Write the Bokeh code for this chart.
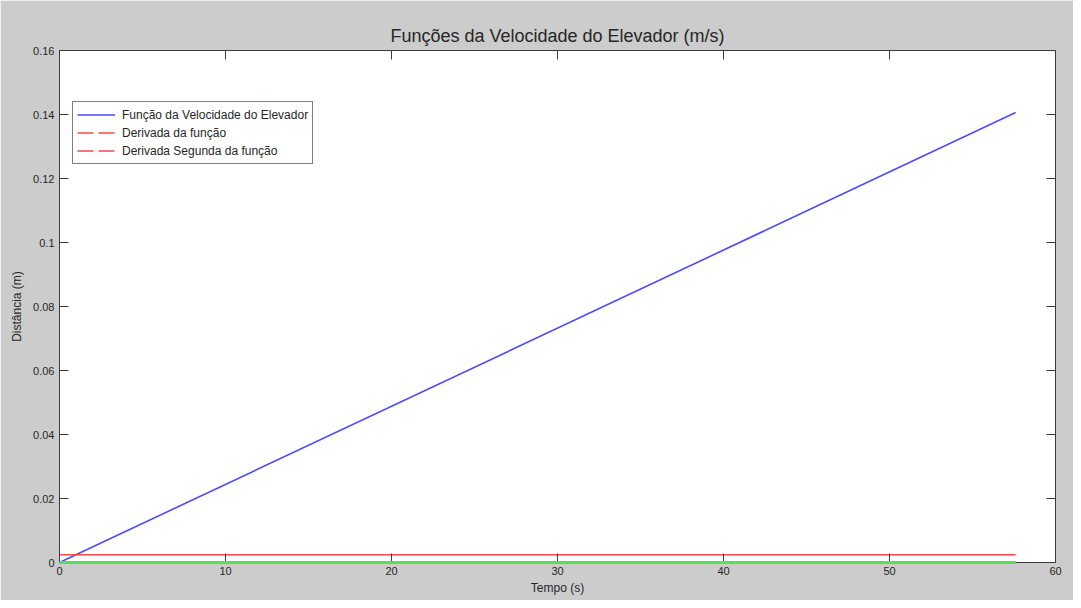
from bokeh.plotting import figure
from bokeh.models import (LinearAxis, FixedTicker, Legend, LegendItem, Range1d, Title,
                          ColumnDataSource, CDSView, IndexFilter)
from bokeh.embed import file_html
from bokeh.resources import INLINE

# Data
t = [0.0, 57.6]
velocidade = [0.0, 0.1406]
derivada = [0.00244, 0.00244]
derivada2 = [0.0, 0.0]

series_names = ["Função da Velocidade do Elevador", "Derivada da função", "Derivada Segunda da função"]
x_ticks = [0, 10, 20, 30, 40, 50, 60]
x_tick_labels = ["0", "10", "20", "30", "40", "50", "60"]
y_ticks = [0, 0.02, 0.04, 0.06, 0.08, 0.1, 0.12, 0.14, 0.16]
y_tick_labels = ["0", "0.02", "0.04", "0.06", "0.08", "0.1", "0.12", "0.14", "0.16"]

FONT = "Liberation Sans"
AX = "#3a3a3a"
TXT = "#262626"
BLUE = "#4a4aff"
RED = "#ff4848"
GREEN = "#55e055"

p = figure(width=1073, height=600, output_backend="svg", toolbar_location=None,
           x_range=Range1d(0, 60), y_range=Range1d(0, 0.16),
           min_border_left=59, min_border_right=18, min_border_top=50, min_border_bottom=38,
           x_axis_label="Tempo (s)", y_axis_label="Distância (m)")
p.border_fill_color = "#cccccc"
p.background_fill_color = "white"
p.outline_line_color = AX
p.outline_line_width = 1
p.grid.visible = False

p.title = Title(text="Funções da Velocidade do Elevador (m/s)", align="center",
                text_font=FONT, text_font_size="18px", text_font_style="normal",
                text_color=TXT, offset=0, standoff=9)


def style_axis(ax, ticks, labels, show_labels=True):
    ax.ticker = FixedTicker(ticks=ticks)
    ax.major_label_overrides = {tk: lb for tk, lb in zip(ticks, labels)}
    ax.major_tick_in = 9
    ax.major_tick_out = 0
    ax.minor_tick_in = 0
    ax.minor_tick_out = 0
    ax.axis_line_color = AX
    ax.major_tick_line_color = AX
    ax.major_label_text_font = FONT
    ax.major_label_text_font_size = "11px"
    ax.major_label_text_color = TXT
    ax.axis_label_text_font = FONT
    ax.axis_label_text_font_size = "12px"
    ax.axis_label_text_font_style = "normal"
    ax.axis_label_text_color = TXT
    if not show_labels:
        ax.major_label_text_font_size = "0px"
        ax.major_label_text_alpha = 0


style_axis(p.xaxis[0], x_ticks, x_tick_labels)
p.xaxis[0].major_label_standoff = 4
p.xaxis[0].axis_label_standoff = 3
style_axis(p.yaxis[0], y_ticks, y_tick_labels)
p.yaxis[0].major_label_standoff = 5
p.yaxis[0].axis_label_standoff = 6

top_ax = LinearAxis()
style_axis(top_ax, x_ticks, x_tick_labels, show_labels=False)
p.add_layout(top_ax, "above")
right_ax = LinearAxis()
style_axis(right_ax, y_ticks, y_tick_labels, show_labels=False)
p.add_layout(right_ax, "right")

src = ColumnDataSource(dict(t=t, v=velocidade, d=derivada, d2=derivada2))

# Plotted lines
p.line("t", "v", source=src, line_color=BLUE, line_width=1.6)
p.line("t", "d", source=src, line_color=RED, line_width=1.5)
p.line("t", "d2", source=src, line_color=GREEN, line_width=3, level="overlay")

# Legend-only renderers: a single point draws nothing but gives the legend glyph
r_leg1 = p.line("t", "v", source=src, view=CDSView(filter=IndexFilter([0])),
                line_color=BLUE, line_width=1.5)
r_leg2 = p.line("t", "d", source=src, view=CDSView(filter=IndexFilter([0])),
                line_color=RED, line_width=1.5, line_dash="16 5")
r_leg3 = p.line("t", "d2", source=src, view=CDSView(filter=IndexFilter([0])),
                line_color=RED, line_width=1.5, line_dash="16 5")

legend = Legend(items=[LegendItem(label=series_names[0], renderers=[r_leg1]),
                       LegendItem(label=series_names[1], renderers=[r_leg2]),
                       LegendItem(label=series_names[2], renderers=[r_leg3])],
                location=(13, 398))
legend.label_text_font = FONT
legend.label_text_font_size = "12px"
legend.label_text_color = TXT
legend.glyph_width = 38
legend.glyph_height = 17
legend.label_height = 17
legend.label_standoff = 7
legend.spacing = 1
legend.padding = 4
legend.margin = 0
legend.border_line_color = "black"
legend.border_line_width = 1
legend.background_fill_color = "white"
legend.background_fill_alpha = 1
p.add_layout(legend, "center")

open("out.html", "w").write(file_html(p, INLINE))
